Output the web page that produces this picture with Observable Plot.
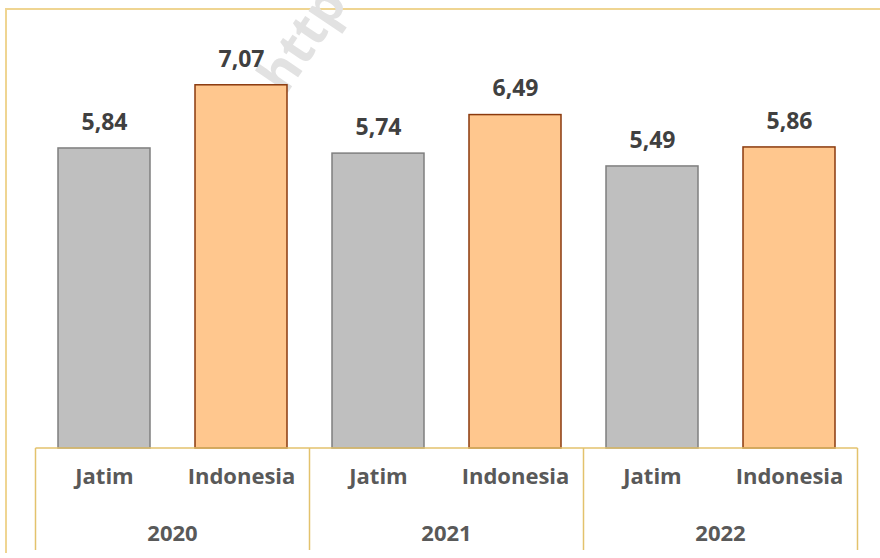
<!DOCTYPE html>
<html>
<head>
<meta charset="utf-8">
<script src="https://cdn.jsdelivr.net/npm/d3@7"></script>
<script src="https://cdn.jsdelivr.net/npm/@observablehq/plot@0.6"></script>
<style>
  html, body { margin: 0; padding: 0; background: #ffffff; }
  #wrap { position: relative; width: 880px; height: 558px; overflow: hidden; background: #fff; }
  #frame { position: absolute; left: 5px; top: 8px; width: 900px; height: 545px;
           border-top: 2px solid #EFD592; border-left: 2px solid #EFD592; box-sizing: border-box; }
  #wm { position: absolute; left: 244px; top: 68px; transform-origin: 0 0; transform: rotate(-56deg);
        font-family: "Open Sans", sans-serif; font-weight: 700; font-size: 52px; line-height: 60px; color: #e2e2e2; white-space: nowrap; }
  #chart { position: absolute; left: 0; top: 0; }
</style>
</head>
<body>
<div id="wrap">
  <div id="frame"></div>
  <div id="wm">http://</div>
  <div id="chart"></div>
</div>
<script>
const years = ["2020", "2021", "2022"];
const regions = ["Jatim", "Indonesia"];
const jatim = [5.84, 5.74, 5.49];
const indonesia = [7.07, 6.49, 5.86];

const data = years.flatMap((yr, i) => [
  {year: yr, region: "Jatim", key: yr + " Jatim", value: jatim[i]},
  {year: yr, region: "Indonesia", key: yr + " Indonesia", value: indonesia[i]}
]);
const keys = data.map(d => d.key);
const fills = {Jatim: "#BFBFBF", Indonesia: "#FFC78E"};
const strokes = {Jatim: "#7F7F7F", Indonesia: "#8B3A0E"};
const fmt = v => v.toFixed(2).replace(".", ",");

const plot = Plot.plot({
  width: 880,
  height: 558,
  marginLeft: 35,
  marginRight: 22,
  marginTop: 37,
  marginBottom: 110,
  style: {background: "transparent", fontFamily: "'Open Sans', sans-serif"},
  x: {domain: keys, paddingInner: 0.33, paddingOuter: 0.165, axis: null},
  y: {domain: [0, 8], axis: null},
  marks: [
    Plot.barY(data, {x: "key", y: "value", fill: d => fills[d.region], stroke: d => strokes[d.region], strokeWidth: 1.5}),
    Plot.text(data, {x: "key", y: "value", text: d => fmt(d.value), dy: -26, fontSize: 23, fontWeight: "bold", fill: "#404040"}),
    Plot.text(data, {x: "key", frameAnchor: "bottom", text: "region", dy: 35, fontSize: 22, fontWeight: "bold", fill: "#595959"})
  ]
});
document.getElementById("chart").appendChild(plot);

// category table lines and year labels via the plot's scales
const xs = plot.scale("x");
const ys = plot.scale("y");
const svg = d3.select(plot);
const step = xs.step, bw = xs.bandwidth;
const y0 = ys.apply(0);
const bottom = 550;
const gap = (step - bw) / 2;
const left = xs.apply(keys[0]) - gap;
const right = xs.apply(keys[keys.length - 1]) + bw + gap;
const lineColor = "#E3C26C";
svg.append("line").attr("x1", left).attr("x2", right).attr("y1", y0).attr("y2", y0)
  .attr("stroke", lineColor).attr("stroke-width", 1.5);
const bounds = years.map(yr => xs.apply(yr + " Jatim") - gap).concat([right]);
bounds.forEach(b => {
  svg.append("line").attr("x1", b).attr("x2", b).attr("y1", y0).attr("y2", bottom)
    .attr("stroke", lineColor).attr("stroke-width", 1.5);
});
years.forEach(yr => {
  const a = xs.apply(yr + " Jatim") - gap;
  const b = xs.apply(yr + " Indonesia") + bw + gap;
  svg.append("text").attr("x", (a + b) / 2).attr("y", y0 + 86).attr("dy", "0.32em")
    .attr("text-anchor", "middle").attr("font-size", 22).attr("font-weight", "bold")
    .attr("fill", "#595959").attr("font-family", "'Open Sans', sans-serif").text(yr);
});
</script>
</body>
</html>
